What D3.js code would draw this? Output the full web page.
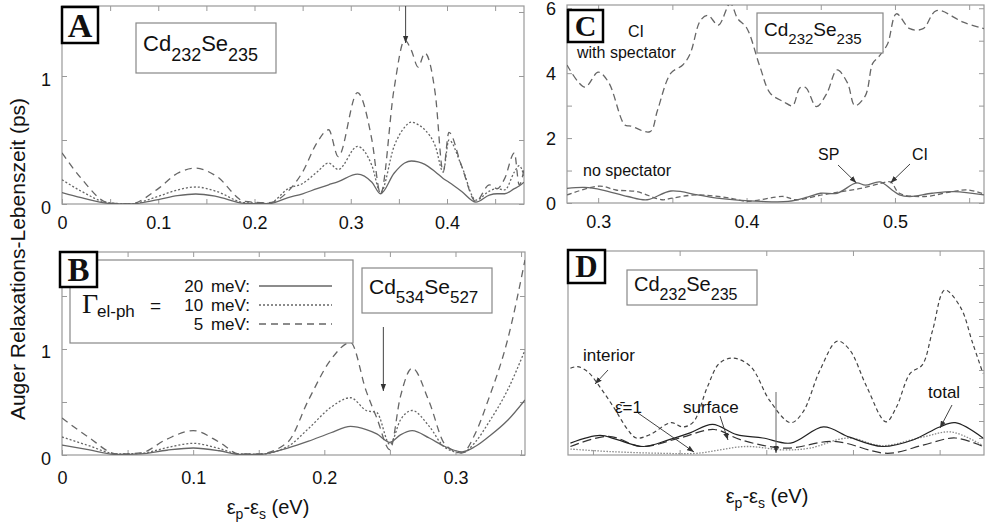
<!DOCTYPE html>
<html>
<head>
<meta charset="utf-8">
<script src="https://cdn.jsdelivr.net/npm/d3@7"></script>
<style>
  body { margin: 0; background: #fff; }
  text { font-family: "Liberation Sans", Arial, sans-serif; fill: #111; }
  .tick line { stroke: #999; }
  .tick text { font-size: 18px; fill: #111; }
</style>
</head>
<body>
<script>
'use strict';

// ---- panel A : Cd232Se235, three el-ph widths ----
var a_x = [0, 0.02, 0.048, 0.07, 0.1, 0.12, 0.139, 0.16, 0.19, 0.215, 0.235, 0.25, 0.265, 0.277, 0.287, 0.307, 0.322, 0.331,
  0.345, 0.356, 0.363, 0.37, 0.377, 0.388, 0.396, 0.402, 0.415, 0.43, 0.444, 0.452, 0.46, 0.47, 0.475, 0.48];
var a_20mev = [0.09, 0.05, 0.005, 0, 0.035, 0.065, 0.078, 0.06, 0.005, 0.003, 0.05, 0.08, 0.12, 0.15, 0.175, 0.234, 0.17, 0.08,
  0.24, 0.32, 0.336, 0.33, 0.31, 0.25, 0.2, 0.17, 0.1, 0.015, 0.07, 0.08, 0.08, 0.12, 0.14, 0.17];
var a_10mev = [0.19, 0.1, 0.01, 0, 0.06, 0.11, 0.133, 0.1, 0.01, 0.005, 0.12, 0.16, 0.25, 0.32, 0.27, 0.45, 0.3, 0.09,
  0.45, 0.6, 0.64, 0.62, 0.58, 0.45, 0.25, 0.5, 0.3, 0.03, 0.1, 0.12, 0.11, 0.25, 0.3, 0.22];
var a_5mev = [0.4, 0.2, 0.01, 0, 0.12, 0.24, 0.28, 0.22, 0.02, 0.01, 0.1, 0.25, 0.48, 0.58, 0.37, 0.87, 0.5, 0.08,
  0.9, 1.28, 1.2, 1.07, 1.18, 0.85, 0.25, 0.56, 0.3, 0.02, 0.15, 0.12, 0.2, 0.4, 0.15, 0.27];

// ---- panel B : Cd534Se527 ----
var b_x = [0, 0.02, 0.042, 0.06, 0.08, 0.1, 0.12, 0.135, 0.15, 0.172, 0.188, 0.205, 0.22, 0.232, 0.24, 0.25, 0.258, 0.267,
  0.28, 0.292, 0.305, 0.315, 0.325, 0.34, 0.353];
var b_20mev = [0.094, 0.05, 0.005, 0.01, 0.045, 0.066, 0.04, 0.005, 0.005, 0.066, 0.13, 0.21, 0.27, 0.24, 0.2, 0.12, 0.19, 0.23,
  0.16, 0.08, 0.03, 0.08, 0.17, 0.33, 0.52];
var b_10mev = [0.17, 0.09, 0.01, 0.015, 0.07, 0.11, 0.06, 0.01, 0.008, 0.08, 0.25, 0.45, 0.54, 0.42, 0.4, 0.1, 0.33, 0.42,
  0.27, 0.07, 0.02, 0.12, 0.3, 0.62, 0.99];
var b_5mev = [0.35, 0.17, 0.01, 0.02, 0.15, 0.23, 0.12, 0.01, 0.01, 0.12, 0.52, 0.9, 1.06, 0.6, 0.35, 0.05, 0.55, 0.82,
  0.5, 0.1, 0.02, 0.2, 0.52, 1.1, 1.84];

// ---- panel C : with / without spectator ----
var c_spec_x = [0.279, 0.291, 0.3, 0.307, 0.318, 0.322, 0.335, 0.34, 0.349, 0.357, 0.362, 0.369, 0.374, 0.381, 0.389, 0.394,
  0.4, 0.409, 0.416, 0.425, 0.431, 0.436, 0.44, 0.447, 0.454, 0.461, 0.468, 0.473, 0.48, 0.485, 0.489, 0.495, 0.501, 0.51,
  0.519, 0.528, 0.546, 0.56];
var c_spec_ci = [4.25, 3.57, 4.03, 3.72, 2.4, 2.37, 2.2, 2.86, 4.0, 4.25, 4.6, 5.63, 5.78, 5.48, 6.15, 5.68,
  5.4, 4.2, 3.38, 3.12, 3.0, 3.55, 3.55, 2.97, 3.37, 4.1, 3.7, 3.0, 3.3, 4.3, 4.5, 4.9, 5.83, 5.37,
  5.37, 5.93, 5.57, 5.37];
var c_sp_x = [0.279, 0.291, 0.303, 0.32, 0.333, 0.349, 0.367, 0.38, 0.41, 0.428, 0.441, 0.45, 0.461, 0.474, 0.48, 0.49,
  0.498, 0.503, 0.51, 0.525, 0.54, 0.56];
var c_sp = [0.45, 0.48, 0.4, 0.2, 0.1, 0.37, 0.25, 0.15, 0.05, 0.05, 0.18, 0.3, 0.3, 0.62, 0.55, 0.65,
  0.4, 0.25, 0.2, 0.3, 0.35, 0.25];
var c_ci_x = [0.279, 0.301, 0.312, 0.326, 0.343, 0.35, 0.366, 0.389, 0.4, 0.425, 0.433, 0.451, 0.464, 0.477, 0.49, 0.497,
  0.503, 0.52, 0.538, 0.549, 0.56];
var c_ci = [0.25, 0.52, 0.4, 0.35, 0.1, 0.15, 0.25, 0.15, 0.05, 0.2, 0.1, 0.25, 0.35, 0.45, 0.6, 0.65,
  0.3, 0.2, 0.35, 0.4, 0.28];

// ---- panel D : contributions ----
var d_int_x = [0.287, 0.291, 0.297, 0.304, 0.312, 0.32, 0.325, 0.333, 0.345, 0.352, 0.358, 0.366, 0.373, 0.381, 0.391, 0.402,
  0.414, 0.421, 0.431, 0.441, 0.448, 0.458, 0.469, 0.475, 0.483, 0.49, 0.496, 0.503, 0.512, 0.519, 0.525];
var d_interior = [5.1, 5.2, 4.9, 4.0, 2.8, 1.5, 1.0, 1.2, 1.9, 1.65, 1.95, 4.0, 5.4, 5.7, 5.2, 3.2,
  1.9, 2.5, 5.0, 6.7, 6.2, 4.0, 1.95, 2.8, 4.8, 5.3, 7.35, 9.7, 8.7, 6.6, 4.8];
var d_tot_x = [0.287, 0.304, 0.314, 0.329, 0.344, 0.356, 0.369, 0.383, 0.398, 0.414, 0.433, 0.448, 0.467, 0.485, 0.5, 0.509, 0.525];
var d_total = [0.7, 1.15, 0.9, 0.5, 0.9, 1.3, 1.8, 1.2, 1.0, 0.7, 1.65, 1.05, 0.5, 0.9, 1.65, 1.9, 1.0];
var d_surf_x = [0.287, 0.309, 0.328, 0.35, 0.37, 0.385, 0.411, 0.439, 0.47, 0.491, 0.509, 0.525];
var d_surface = [0.5, 1.1, 0.5, 1.0, 1.5, 0.9, 0.4, 0.8, 0.1, 0.6, 1.0, 0.5];
var d_eps_x = [0.287, 0.31, 0.34, 0.36, 0.388, 0.41, 0.425, 0.447, 0.467, 0.49, 0.507, 0.525];
var d_eps1 = [0.35, 0.2, 0.1, 0.1, 0.5, 0.3, 0.4, 1.0, 0.55, 1.05, 1.35, 0.55];

var curve_grey = '#666';
var frame_grey = '#999';

var svg = d3.select('body').append('svg').attr('width', 992).attr('height', 527);

var defs = svg.append('defs');
defs.append('marker').attr('id', 'head').attr('viewBox', '0 0 8 6')
  .attr('refX', 8).attr('refY', 3).attr('markerWidth', 7).attr('markerHeight', 6)
  .attr('markerUnits', 'userSpaceOnUse').attr('orient', 'auto')
  .append('path').attr('d', 'M0,0 L8,3 L0,6 Z').attr('fill', '#333');

// one panel = frame, inner ticks on four sides, clipped curves
function panel(id, x, y, x_ticks, y_ticks, x_fmt, y_fmt, x_pad) {
  var g = svg.append('g').attr('id', id);
  var x0 = x.range()[0], x1 = x.range()[1], y0 = y.range()[0], y1 = y.range()[1];

  defs.append('clipPath').attr('id', 'clip-' + id).append('rect')
    .attr('x', x0).attr('y', y1).attr('width', x1 - x0).attr('height', y0 - y1);

  g.append('g').attr('transform', 'translate(0,' + y0 + ')')
    .call(d3.axisBottom(x).tickValues(x_ticks).tickSize(-5).tickPadding(x_pad).tickFormat(x_fmt));
  g.append('g').attr('transform', 'translate(0,' + y1 + ')')
    .call(d3.axisTop(x).tickValues(x_ticks).tickSize(-5).tickFormat(''));
  g.left = g.append('g').attr('transform', 'translate(' + x0 + ',0)')
    .call(d3.axisLeft(y).tickValues(y_ticks).tickSize(-5).tickPadding(11).tickFormat(y_fmt));
  g.left.selectAll('text').attr('dy', '0.5em');
  g.append('g').attr('transform', 'translate(' + x1 + ',0)')
    .call(d3.axisRight(y).tickValues(y_ticks).tickSize(-5).tickFormat(''));
  g.selectAll('.domain').remove();

  g.append('rect').attr('x', x0).attr('y', y1).attr('width', x1 - x0).attr('height', y0 - y1)
    .attr('fill', 'none').attr('stroke', frame_grey).attr('stroke-width', 1.2);

  g.plot = g.append('g').attr('clip-path', 'url(#clip-' + id + ')');
  return g;
}

function draw(g, x, y, xs, ys, curve, stroke, dash, width) {
  var line = d3.line().x(function (d) { return x(d[0]); }).y(function (d) { return y(d[1]); }).curve(curve);
  g.plot.append('path').datum(d3.zip(xs, ys)).attr('d', line)
    .attr('fill', 'none').attr('stroke', stroke).attr('stroke-width', width || 1.3)
    .attr('stroke-dasharray', dash);
}

function letter_box(g, x, y, w, h, ch) {
  g.append('rect').attr('x', x).attr('y', y).attr('width', w).attr('height', h)
    .attr('fill', '#fff').attr('stroke', '#000').attr('stroke-width', 2.5);
  g.append('text').attr('x', x + w / 2).attr('y', y + h - 6).attr('text-anchor', 'middle')
    .style('font-family', '"Liberation Serif", "Times New Roman", serif').style('font-weight', 'bold')
    .style('font-size', (h - 2) + 'px').text(ch);
}

function formula_box(g, x, y, w, h, n1, n2, big, small) {
  g.append('rect').attr('x', x).attr('y', y).attr('width', w).attr('height', h)
    .attr('fill', '#fff').attr('stroke', '#888').attr('stroke-width', 1.2);
  var t = g.append('text').attr('x', x + 7).attr('y', y + h / 2 + 3).style('font-size', big + 'px');
  var shift = Math.round(small * 0.55);
  t.append('tspan').text('Cd');
  t.append('tspan').attr('dy', shift).style('font-size', small + 'px').text(n1);
  t.append('tspan').attr('dy', -shift).text('Se');
  t.append('tspan').attr('dy', shift).style('font-size', small + 'px').text(n2);
}

function arrow(g, x1, y1, x2, y2, col) {
  g.append('line').attr('x1', x1).attr('y1', y1).attr('x2', x2).attr('y2', y2)
    .attr('stroke', col || '#444').attr('stroke-width', 1).attr('marker-end', 'url(#head)');
}

function tenth(d) {
  if (Math.abs(d * 10 - Math.round(d * 10)) > 1e-6) return '';
  return d === 0 ? '0' : d3.format('.1f')(d);
}
function y_only(list) {
  return function (d) { return list.indexOf(d) >= 0 ? d : ''; };
}

var dash_5 = '7,5';
var dot_10 = '2,2';

// ---------- A ----------
var xA = d3.scaleLinear().domain([0, 0.48]).range([62, 524]);
var yA = d3.scaleLinear().domain([0, 1.547]).range([204, 6]);
var gA = panel('A', xA, yA, d3.range(0, 0.476, 0.05), [0, 0.5, 1, 1.5], tenth, y_only([0, 1]), 12);
draw(gA, xA, yA, a_x, a_20mev, d3.curveMonotoneX, curve_grey, null);
draw(gA, xA, yA, a_x, a_10mev, d3.curveMonotoneX, curve_grey, dot_10);
draw(gA, xA, yA, a_x, a_5mev, d3.curveMonotoneX, curve_grey, dash_5);
arrow(gA, xA(0.357), 6, xA(0.357), 43);
letter_box(gA, 62, 7, 36, 36, 'A');
formula_box(gA, 136, 23, 140, 50, '232', '235', 22, 18);

// ---------- B ----------
var xB = d3.scaleLinear().domain([0, 0.353]).range([62, 525]);
var yB = d3.scaleLinear().domain([0, 1.915]).range([455, 252]);
var gB = panel('B', xB, yB, d3.range(0, 0.351, 0.05), [0, 0.5, 1, 1.5], tenth, y_only([0, 1]), 16);
draw(gB, xB, yB, b_x, b_20mev, d3.curveMonotoneX, curve_grey, null);
draw(gB, xB, yB, b_x, b_10mev, d3.curveMonotoneX, curve_grey, dot_10);
draw(gB, xB, yB, b_x, b_5mev, d3.curveMonotoneX, curve_grey, dash_5);
arrow(gB, xB(0.245), 327, xB(0.245), 391);
formula_box(gB, 362, 268, 130, 45, '534', '527', 21, 17);

// legend of B
var leg = gB.append('g');
leg.append('rect').attr('x', 70).attr('y', 260).attr('width', 283).attr('height', 83)
  .attr('fill', '#fff').attr('stroke', '#888').attr('stroke-width', 1.2);
leg.append('text').attr('x', 82).attr('y', 313)
  .style('font-family', '"Liberation Serif", serif').style('font-size', '28px').text('Γ');
leg.append('text').attr('x', 97).attr('y', 317).style('font-size', '17px').text('el-ph');
leg.append('text').attr('x', 150).attr('y', 312).style('font-size', '19px').text('=');
var leg_labels = ['20 meV:', '10 meV:', '5 meV:'];
var leg_dash = [null, dot_10, dash_5];
var leg_y = d3.scaleLinear().domain([0, 2]).range([292, 330]);
leg_labels.forEach(function (s, i) {
  leg.append('text').attr('x', 250).attr('y', leg_y(i)).attr('text-anchor', 'end')
    .style('font-size', '17px').style('word-spacing', '3px').text(s);
  leg.append('line').attr('x1', 259).attr('x2', 332).attr('y1', leg_y(i) - 6).attr('y2', leg_y(i) - 6)
    .attr('stroke', curve_grey).attr('stroke-width', 1.3).attr('stroke-dasharray', leg_dash[i]);
});
letter_box(gB, 60, 252, 37, 35, 'B');

// ---------- C ----------
var xC = d3.scaleLinear().domain([0.279, 0.56]).range([567, 984]);
var yC = d3.scaleLinear().domain([0, 6.1]).range([203, 5]);
var gC = panel('C', xC, yC, [0.3, 0.35, 0.4, 0.45, 0.5, 0.55], [0, 1, 2, 3, 4, 5, 6], tenth, y_only([0, 2, 4, 6]), 12);
gC.left.selectAll('text').attr('dy', '0.35em');
draw(gC, xC, yC, c_spec_x, c_spec_ci, d3.curveCatmullRom, curve_grey, '7,4');
draw(gC, xC, yC, c_sp_x, c_sp, d3.curveCatmullRom, curve_grey, null);
draw(gC, xC, yC, c_ci_x, c_ci, d3.curveCatmullRom, curve_grey, '5,3');
letter_box(gC, 568, 10, 35, 32, 'C');
formula_box(gC, 757, 13, 126, 40, '232', '235', 19, 15);
gC.append('text').attr('x', 636).attr('y', 37).attr('text-anchor', 'middle').style('font-size', '16px').text('CI');
gC.append('text').attr('x', 577).attr('y', 58).style('font-size', '16px').text('with spectator');
gC.append('text').attr('x', 583).attr('y', 176).style('font-size', '16px').text('no spectator');
gC.append('text').attr('x', 818).attr('y', 160).style('font-size', '16px').text('SP');
gC.append('text').attr('x', 912).attr('y', 160).style('font-size', '16px').text('CI');
arrow(gC, 838, 165, xC(0.474), yC(0.62));
arrow(gC, 910, 164, xC(0.497), yC(0.62));

// ---------- D ----------
var xD = d3.scaleLinear().domain([0.2856, 0.5256]).range([568, 984]);
var yD = d3.scaleLinear().domain([0, 12]).range([455, 251]);
var gD = panel('D', xD, yD, [0.3, 0.35, 0.4, 0.45, 0.5], d3.range(1, 12), function () { return ''; }, function () { return ''; }, 12);
gD.left.selectAll('.tick line').remove();
draw(gD, xD, yD, d_int_x, d_interior, d3.curveCatmullRom, '#444', '4,3', 1.2);
draw(gD, xD, yD, d_eps_x, d_eps1, d3.curveCatmullRom, '#888', '1.5,1.5', 1.3);
draw(gD, xD, yD, d_surf_x, d_surface, d3.curveCatmullRom, '#333', '9,4', 1.2);
draw(gD, xD, yD, d_tot_x, d_total, d3.curveCatmullRom, '#222', null, 1.2);
letter_box(gD, 568, 250, 37, 33, 'D');
formula_box(gD, 627, 270, 130, 35, '232', '235', 20, 16);
gD.append('text').attr('x', 583).attr('y', 361).style('font-size', '17px').text('interior');
gD.append('text').attr('x', 615).attr('y', 413).style('font-size', '17px').text('\u03b5\u0304=1');
gD.append('text').attr('x', 683).attr('y', 413).style('font-size', '17px').text('surface');
gD.append('text').attr('x', 928).attr('y', 398).style('font-size', '17px').text('total');
arrow(gD, 608, 370, 595, 384);
arrow(gD, 638, 413, 694, 452);
arrow(gD, 720, 416, 728, 440);
arrow(gD, 952, 405, 940, 428);
arrow(gD, 776, 392, 776, 453, '#666');

// ---------- axis titles ----------
svg.append('text').attr('transform', 'translate(25,259) rotate(-90)').attr('text-anchor', 'middle')
  .style('font-size', '21px').text('Auger Relaxations-Lebenszeit (ps)');

function eps_title(cx, cy) {
  var t = svg.append('text').attr('x', cx).attr('y', cy).attr('text-anchor', 'middle').style('font-size', '20px');
  t.append('tspan').text('\u03b5');
  t.append('tspan').attr('dy', 5).style('font-size', '14px').text('p');
  t.append('tspan').attr('dy', -5).text('-\u03b5');
  t.append('tspan').attr('dy', 5).style('font-size', '14px').text('s');
  t.append('tspan').attr('dy', -5).text(' (eV)');
}
eps_title(268, 514);
eps_title(767, 503);
</script>
</body>
</html>
